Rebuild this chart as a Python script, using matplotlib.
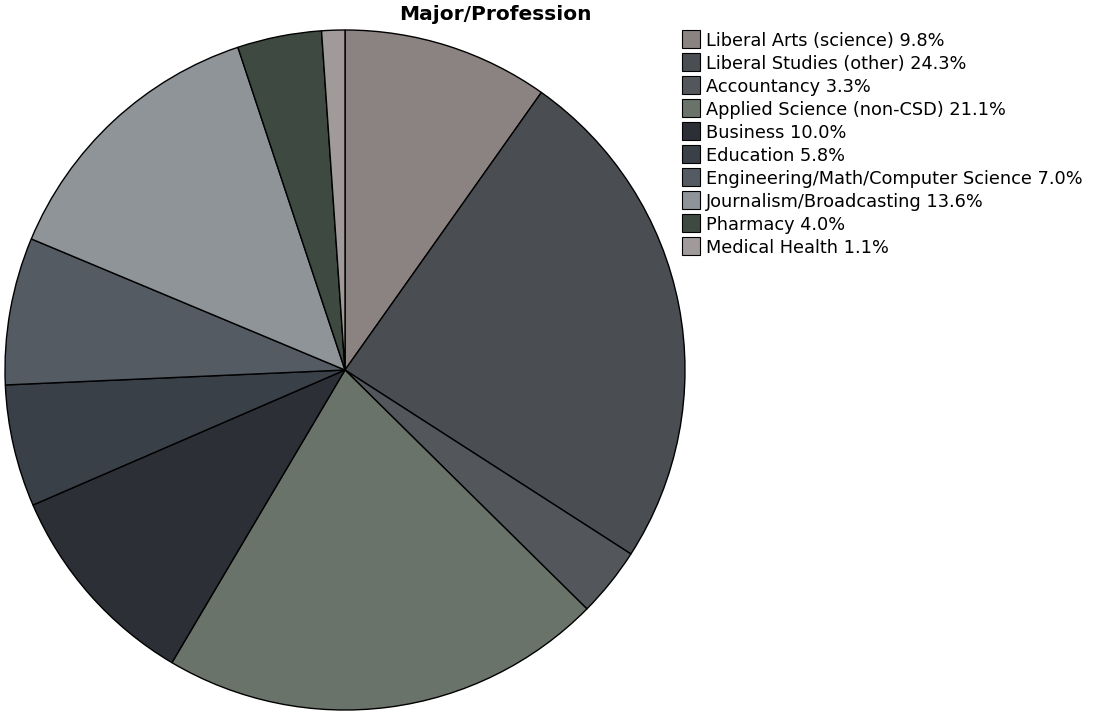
import matplotlib
matplotlib.use("Agg")
import matplotlib.pyplot as plt
from matplotlib.patches import Rectangle

categories = [
    "Liberal Arts (science)",
    "Liberal Studies (other)",
    "Accountancy",
    "Applied Science (non-CSD)",
    "Business",
    "Education",
    "Engineering/Math/Computer Science",
    "Journalism/Broadcasting",
    "Pharmacy",
    "Medical Health",
]
percentages = [9.8, 24.3, 3.3, 21.1, 10.0, 5.8, 7.0, 13.6, 4.0, 1.1]
colors = [
    "#8a8382", "#4a4d52", "#53575c", "#6a7369", "#2c3036",
    "#3a4047", "#555b62", "#8f9498", "#3e4a41", "#a09a9b",
]

W, H = 1097, 713
fig = plt.figure(figsize=(W / 100, H / 100), dpi=100)
fig.patch.set_facecolor("white")

cx, cy, r = 345, 370, 340
ax = fig.add_axes([(cx - r) / W, (H - cy - r) / H, 2 * r / W, 2 * r / H])
wedges, _ = ax.pie(
    percentages,
    colors=colors,
    startangle=90,
    counterclock=False,
    radius=1.0,
    wedgeprops=dict(edgecolor="black", linewidth=1.0),
)
ax.set_xlim(-1.0, 1.0)
ax.set_ylim(-1.0, 1.0)
ax.set_aspect("equal")
ax.axis("off")

fig.text(495 / W, 1 - 15 / H, "Major/Profession", ha="center", va="center",
         fontsize=14.5, fontweight="bold")

# Legend: swatch + label per category, laid out in pixel rows
labels = [f"{c} {p:.1f}%" for c, p in zip(categories, percentages)]
row0, row_step, box = 38.5, 23.1, 18
for i, (lab, col) in enumerate(zip(labels, colors)):
    yc = row0 + i * row_step
    fig.patches.append(Rectangle(
        (682 / W, 1 - (yc + box / 2) / H), box / W, box / H,
        transform=fig.transFigure, facecolor=col, edgecolor="black",
        linewidth=0.8))
    fig.text(706 / W, 1 - yc / H, lab, ha="left", va="center_baseline",
             fontsize=12.8)

fig.savefig("out.png", dpi=100)
